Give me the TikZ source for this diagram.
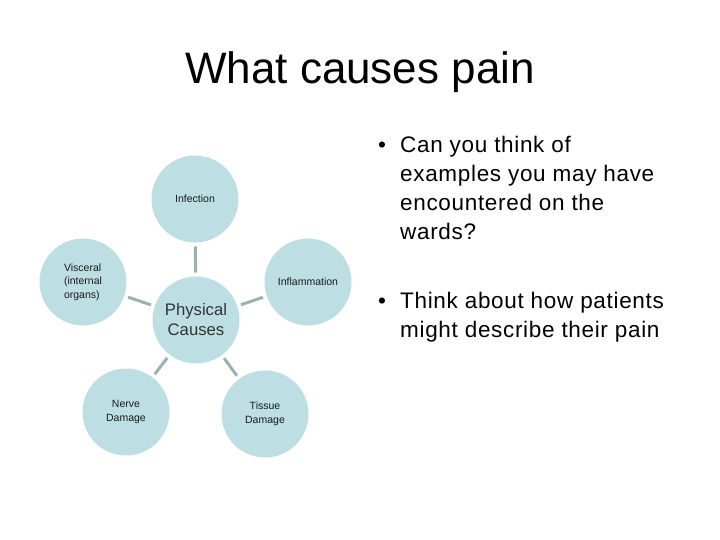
\documentclass[tikz,border=0pt]{standalone}
\usepackage{fontspec}
\setmainfont{Liberation Sans}
\definecolor{circfill}{HTML}{BDDFE3}
\definecolor{linkcol}{HTML}{9DB1B3}
\definecolor{txt}{HTML}{1A1A1A}
\begin{document}
\begin{tikzpicture}[x=1pt,y=-1pt,
  bubble/.style={circle,fill=circfill,minimum size=87pt,inner sep=0pt,outer sep=0pt,
    text=txt,font=\fontsize{10.5}{13.5}\selectfont,align=center},
  hub/.style={bubble,font=\fontsize{16.7}{20}\selectfont,text=black!80},
  link/.style={draw=linkcol,line width=3pt,shorten <=4pt,shorten >=4pt},
  bullettext/.style={anchor=base west,inner sep=0pt,align=left,
    font=\fontsize{22.5}{29}\selectfont\addfontfeature{LetterSpace=3},text=black}
]
\useasboundingbox (0,0) rectangle (720,540);
\fill[white] (0,0) rectangle (720,540);

\node[anchor=base,inner sep=0pt,font=\fontsize{44}{50}\selectfont] (title) at (360,84) {What causes pain};

\node[hub] (phys) at (196,320) {Physical\\Causes};
\node[bubble] (inf) at (195,199) {Infection};
\node[bubble] (infl) at (308,282) {Inflammation};
\node[bubble,align=left] (visc) at (83,282) {Visceral\\(internal\\organs)};
\node[bubble] (nerve) at (126,412) {Nerve\\Damage};
\node[bubble] (tissue) at (265,414) {Tissue\\Damage};

\draw[link] (phys) -- (inf);
\draw[link] (phys) -- (infl);
\draw[link] (phys) -- (visc);
\draw[link] (phys) -- (nerve);
\draw[link] (phys) -- (tissue);

\node[bullettext] (b1) at (378,153) {•};
\node[bullettext] (t1) at (400,240) {Can you think of\\examples you may have\\encountered on the\\wards?};
\node[bullettext] (b2) at (378,308) {•};
\node[bullettext] (t2) at (400,337) {Think about how patients\\might describe their pain};
\end{tikzpicture}
\end{document}
